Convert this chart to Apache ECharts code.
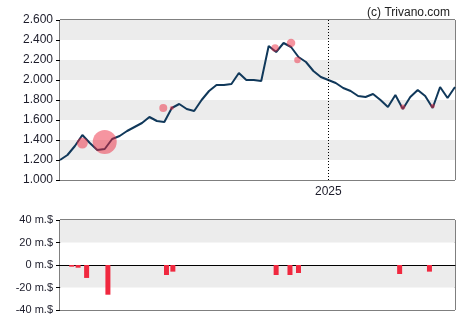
<!DOCTYPE html>
<html>
<head>
<meta charset="utf-8">
<script src="https://cdn.jsdelivr.net/npm/echarts@6/dist/echarts.min.js"></script>
<style>
  html, body { margin: 0; padding: 0; background: #fff; }
  #chart { width: 470px; height: 325px; }
</style>
</head>
<body>
<div id="chart"></div>
<script>
// Weekly closing prices
const weeks = [
  '2024-04-24','2024-05-01','2024-05-08','2024-05-15','2024-05-22','2024-05-29',
  '2024-06-05','2024-06-12','2024-06-19','2024-06-26','2024-07-03','2024-07-10',
  '2024-07-17','2024-07-24','2024-07-31','2024-08-07','2024-08-14','2024-08-21',
  '2024-08-28','2024-09-04','2024-09-11','2024-09-18','2024-09-25','2024-10-02',
  '2024-10-09','2024-10-16','2024-10-23','2024-10-30','2024-11-06','2024-11-13',
  '2024-11-20','2024-11-27','2024-12-04','2024-12-11','2024-12-18','2024-12-25',
  '2025-01-01','2025-01-08','2025-01-15','2025-01-22','2025-01-29','2025-02-05',
  '2025-02-12','2025-02-19','2025-02-26','2025-03-05','2025-03-12','2025-03-19',
  '2025-03-26','2025-04-02','2025-04-09','2025-04-16','2025-04-23','2025-04-30'
];
const prices = [
  1.20,1.25,1.34,1.45,1.37,1.30,
  1.31,1.41,1.44,1.49,1.53,1.57,
  1.63,1.59,1.58,1.72,1.76,1.71,
  1.69,1.80,1.89,1.95,1.95,1.96,
  2.07,2.00,2.00,1.99,2.34,2.28,
  2.37,2.33,2.23,2.18,2.09,2.03,
  2.00,1.97,1.92,1.89,1.84,1.83,
  1.86,1.80,1.73,1.85,1.71,1.83,
  1.90,1.84,1.72,1.93,1.82,1.93
];

// Insider trades marked on the price line
const tradeDates = ['2024-05-15','2024-06-05','2024-07-30','2024-08-07','2024-11-12','2024-11-27','2024-12-03','2025-03-12','2025-04-09'];
const tradePrices = [1.37,1.38,1.72,1.72,2.32,2.37,2.20,1.73,1.74];
const tradeWeight = [13.4,64,7.1,1.8,6.25,8,4.7,2.8,2.25];

// Net insider flow, million $
const flowDates = ['2024-05-05','2024-05-11','2024-05-19','2024-06-08','2024-08-02','2024-08-08','2024-11-13','2024-11-26','2024-12-04','2025-03-09','2025-04-06'];
const flowValues = [-1.5,-2.4,-11.5,-26.4,-8.9,-5.9,-8.9,-8.9,-7.1,-8.0,-5.9];

const yearMarks = ['2025-01-01'];

const ts = d => Date.parse(d + 'T00:00:00Z');
const chart = echarts.init(document.getElementById('chart'), null, { renderer: 'canvas' });
const xMin = ts('2024-04-24');
const xMax = ts('2025-04-30');
const font = 'Liberation Sans, Arial, sans-serif';
const labelColor = '#1c1c2a';

chart.setOption({
  animation: false,
  backgroundColor: '#fff',
  title: {
    text: '(c) Trivano.com',
    right: 15, top: 2,
    textStyle: { fontFamily: font, fontSize: 12, fontWeight: 'normal', color: '#222' }
  },
  grid: [
    { left: 60, right: 15, top: 20, height: 160, show: true, borderColor: '#000', borderWidth: 1, backgroundColor: 'transparent' },
    { left: 60, right: 15, top: 220, height: 90, show: true, borderColor: '#000', borderWidth: 1, backgroundColor: 'transparent' }
  ],
  xAxis: [
    {
      type: 'value', gridIndex: 0, min: xMin, max: xMax,
      axisLine: { show: false },
      axisTick: { show: false },
      splitLine: { show: false },
      axisLabel: {
        customValues: yearMarks.map(ts),
        formatter: v => String(new Date(v).getUTCFullYear()),
        fontFamily: font, fontSize: 12, color: labelColor, margin: 6
      }
    },
    {
      type: 'value', gridIndex: 1, min: xMin, max: xMax,
      axisLine: { show: true, onZero: true, lineStyle: { color: '#000', width: 1 } },
      axisTick: { show: false },
      axisLabel: { show: false },
      splitLine: { show: false }
    }
  ],
  yAxis: [
    {
      type: 'value', gridIndex: 0, min: 1.0, max: 2.6, interval: 0.2,
      axisLine: { show: false },
      axisTick: { show: true, length: 4, lineStyle: { color: '#000' } },
      axisLabel: { formatter: v => v.toFixed(3), fontFamily: font, fontSize: 12, color: labelColor, margin: 7 },
      splitLine: { show: false },
      splitArea: { show: true, areaStyle: { color: ['#ffffff', '#ececec'] } }
    },
    {
      type: 'value', gridIndex: 1, min: -40, max: 40, interval: 20,
      axisLine: { show: false },
      axisTick: { show: true, length: 4, lineStyle: { color: '#000' } },
      axisLabel: { formatter: v => v + ' m.$', fontFamily: font, fontSize: 11, color: labelColor, margin: 7 },
      splitLine: { show: false },
      splitArea: { show: true, areaStyle: { color: ['#ffffff', '#ececec'] } }
    }
  ],
  series: [
    {
      type: 'line', xAxisIndex: 0, yAxisIndex: 0,
      data: weeks.map((d, i) => [ts(d), prices[i]]),
      symbol: 'none', smooth: false,
      lineStyle: { color: '#10385a', width: 2 },
      z: 3,
      markLine: {
        silent: true, symbol: 'none', label: { show: false },
        lineStyle: { color: '#000', type: [1, 2], width: 1 },
        data: yearMarks.map(d => ({ xAxis: ts(d) }))
      }
    },
    {
      type: 'scatter', xAxisIndex: 0, yAxisIndex: 0,
      data: tradeDates.map((d, i) => [ts(d), tradePrices[i], tradeWeight[i]]),
      symbolSize: p => 3 * Math.sqrt(p[2]),
      itemStyle: { color: 'rgba(236,40,62,0.62)' },
      z: 4
    },
    {
      type: 'bar', xAxisIndex: 1, yAxisIndex: 1,
      data: flowDates.map((d, i) => [ts(d), flowValues[i]]),
      barWidth: 5,
      itemStyle: { color: '#f0283f' }
    }
  ]
});
</script>
</body>
</html>
